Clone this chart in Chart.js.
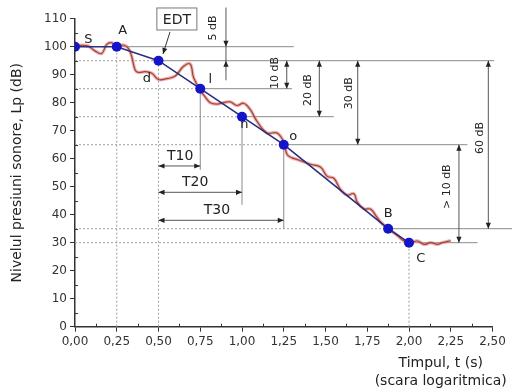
<!DOCTYPE html>
<html>
<head>
<meta charset="utf-8">
<script src="https://cdn.jsdelivr.net/npm/chart.js@4/dist/chart.umd.min.js"></script>
<style>
  html,body{margin:0;padding:0;background:#fff;}
</style>
</head>
<body>
<canvas id="chart" width="512" height="391"></canvas>
<script>
// PUNCTE MARCATE (linia albastra)
const markTimes  = [0, 0.25, 0.5, 0.75, 1.0, 1.25, 1.875, 2.0];
const markLevels = [100, 100, 95, 85, 75, 65, 35, 30];

// ETICHETE PUNCTE
const labelText   = ['S', 'A', 'd', 'l', 'n', 'o', 'B', 'C'];
const labelTimes  = [0.08, 0.286, 0.43, 0.81, 1.014, 1.307, 1.876, 2.07];
const labelLevels = [102.4, 105.7, 88.7, 88.1, 72, 67.9, 40.5, 24.4];

// CURBA MASURATA (rosie)
const curveTimes  = [0, 0.04, 0.08, 0.12, 0.16, 0.19, 0.22, 0.25, 0.29, 0.32,
                     0.34, 0.36, 0.38, 0.42, 0.46, 0.5, 0.55, 0.6, 0.65, 0.69,
                     0.71, 0.75, 0.78, 0.81, 0.85, 0.89, 0.93, 0.97, 1.01, 1.05,
                     1.09, 1.15, 1.21, 1.25, 1.27, 1.3, 1.33, 1.41, 1.47, 1.51,
                     1.55, 1.59, 1.63, 1.67, 1.69, 1.73, 1.77, 1.8, 1.83, 1.875,
                     1.93, 1.96, 2.0, 2.05, 2.09, 2.13, 2.17, 2.2, 2.25];
const curveLevels = [100, 100.5, 100.2, 98.5, 97.6, 100.8, 101.4, 100, 100.6, 99.4,
                     96.4, 91.7, 90.8, 91.1, 90.5, 88.3, 88.6, 89.5, 93, 93.8,
                     89, 84.5, 82, 80, 79.5, 80, 80.3, 79, 79.8, 77.5,
                     73.3, 69.2, 69.2, 66, 61.5, 60.3, 59.7, 58, 57, 53.7,
                     53, 49, 47, 47.5, 44.5, 42.1, 42, 39.8, 37.4, 35,
                     32.6, 31, 30, 30.6, 29.4, 30, 29.4, 30, 30.7];

// AXE
const xMin = 0, xMax = 2.5, xStep = 0.25;
const yMin = 0, yMax = 110, yStep = 10;
const yTitle = 'Nivelul presiuni sonore, Lp (dB)';
const xTitle = ['Timpul, t (s)', '(scara logaritmica)'];

// LINII AJUTATOARE: [nivel, de la t, pana la t]
const dottedLevels = [[95, 0, 0.5], [85, 0, 0.75], [75, 0, 1.0], [65, 0, 1.25], [35, 0, 1.875], [30, 0, 2.0]];
// [t, de la nivel, pana la nivel]
const dottedTimes  = [[0.25, 0, 100], [0.5, 0, 95], [2.0, 0, 30]];
const solidLevels  = [[100, 0.25, 1.31], [95, 0.5, 2.51], [85, 0.75, 1.3], [75, 1.0, 1.55],
                      [65, 1.25, 2.35], [35, 1.875, 2.62], [30, 2.0, 2.41]];
const solidTimes   = [[0.75, 85, 56], [1.0, 75, 43.5], [1.25, 65, 35]];

// SAGETI T10 / T20 / T30
const spanText   = ['T10', 'T20', 'T30'];
const spanEnd    = [0.75, 1.0, 1.25];
const spanLevel  = [57.4, 48, 38];
const spanTextAt = [0.63, 0.72, 0.85];

// COTE dB
const dimText   = ['5 dB', '10 dB', '20 dB', '30 dB', '60 dB', '> 10 dB'];
const dimTime   = [0.904, 1.268, 1.463, 1.693, 2.475, 2.299];
const dimTop    = [100, 95, 95, 95, 95, 65];
const dimBottom = [95, 85, 75, 65, 35, 30];
const dimTextT  = [0.826, 1.198, 1.395, 1.64, 2.425, 2.226];
const dimTextL  = [106.7, 90.6, 84.5, 83.4, 67.4, 50];

const FONT = '"DejaVu Sans", sans-serif';

function pts(xs, ys){ return xs.map((x,i)=>({x:x, y:ys[i]})); }

function arrowHead(ctx, x, y, dx, dy){
  // varf in (x,y), directie (dx,dy)
  const len = 6, w = 2.6;
  ctx.beginPath();
  ctx.moveTo(x, y);
  ctx.lineTo(x - dx*len - dy*w, y - dy*len + dx*w);
  ctx.lineTo(x - dx*len + dy*w, y - dy*len - dx*w);
  ctx.closePath();
  ctx.fill();
}

function line(ctx, x1, y1, x2, y2){
  ctx.beginPath(); ctx.moveTo(x1, y1); ctx.lineTo(x2, y2); ctx.stroke();
}

const guides = {
  id: 'guides',
  beforeDatasetsDraw(chart){
    const ctx = chart.ctx, X = chart.scales.x, Y = chart.scales.y;
    ctx.save();
    ctx.lineWidth = 1;
    ctx.strokeStyle = '#a0a0a0';
    ctx.setLineDash([2, 2]);
    dottedLevels.forEach(d=>line(ctx, X.getPixelForValue(d[1]), Y.getPixelForValue(d[0]), X.getPixelForValue(d[2]), Y.getPixelForValue(d[0])));
    dottedTimes.forEach(d=>line(ctx, X.getPixelForValue(d[0]), Y.getPixelForValue(d[1]), X.getPixelForValue(d[0]), Y.getPixelForValue(d[2])));
    ctx.setLineDash([]);
    ctx.strokeStyle = '#8a8a8a';
    solidLevels.forEach(d=>line(ctx, X.getPixelForValue(d[1]), Y.getPixelForValue(d[0]), X.getPixelForValue(d[2]), Y.getPixelForValue(d[0])));
    solidTimes.forEach(d=>line(ctx, X.getPixelForValue(d[0]), Y.getPixelForValue(d[1]), X.getPixelForValue(d[0]), Y.getPixelForValue(d[2])));

    // T10 / T20 / T30
    ctx.fillStyle = '#222';
    ctx.strokeStyle = '#555';
    spanText.forEach((t,i)=>{
      const x1 = X.getPixelForValue(0.5), x2 = X.getPixelForValue(spanEnd[i]), y = Y.getPixelForValue(spanLevel[i]);
      line(ctx, x1, y, x2, y);
      arrowHead(ctx, x1, y, -1, 0);
      arrowHead(ctx, x2, y, 1, 0);
    });

    // cote verticale
    dimText.forEach((t,i)=>{
      const x = X.getPixelForValue(dimTime[i]);
      const y1 = Y.getPixelForValue(dimTop[i]), y2 = Y.getPixelForValue(dimBottom[i]);
      if(i===0){
        line(ctx, x, Y.getPixelForValue(114), x, Y.getPixelForValue(88));
        arrowHead(ctx, x, y1, 0, 1);
        arrowHead(ctx, x, y2, 0, -1);
      } else {
        line(ctx, x, y1, x, y2);
        arrowHead(ctx, x, y1, 0, -1);
        arrowHead(ctx, x, y2, 0, 1);
      }
    });
    ctx.restore();
  },
  afterDatasetsDraw(chart){
    const ctx = chart.ctx, X = chart.scales.x, Y = chart.scales.y;
    ctx.save();
    ctx.fillStyle = '#222';
    ctx.textAlign = 'center';
    ctx.textBaseline = 'middle';

    ctx.font = '13px ' + FONT;
    labelText.forEach((t,i)=>ctx.fillText(t, X.getPixelForValue(labelTimes[i]), Y.getPixelForValue(labelLevels[i])));

    ctx.font = '14px ' + FONT;
    spanText.forEach((t,i)=>ctx.fillText(t, X.getPixelForValue(spanTextAt[i]), Y.getPixelForValue(spanLevel[i]) - 10));

    // EDT
    const bx = X.getPixelForValue(0.61), by = Y.getPixelForValue(109.9);
    ctx.fillStyle = '#fff';
    ctx.fillRect(bx - 20, by - 11, 40, 22);
    ctx.strokeStyle = '#777';
    ctx.lineWidth = 1;
    ctx.strokeRect(bx - 20, by - 11, 40, 22);
    ctx.fillStyle = '#222';
    ctx.fillText('EDT', bx, by + 1);
    const ax1 = X.getPixelForValue(0.569), ay1 = Y.getPixelForValue(105.3);
    const ax2 = X.getPixelForValue(0.527), ay2 = Y.getPixelForValue(97.4);
    ctx.strokeStyle = '#333';
    line(ctx, ax1, ay1, ax2, ay2);
    const L = Math.hypot(ax2-ax1, ay2-ay1);
    arrowHead(ctx, ax2, ay2, (ax2-ax1)/L, (ay2-ay1)/L);

    // texte cote
    ctx.font = '11px ' + FONT;
    dimText.forEach((t,i)=>{
      ctx.save();
      ctx.translate(X.getPixelForValue(dimTextT[i]), Y.getPixelForValue(dimTextL[i]));
      ctx.rotate(-Math.PI/2);
      ctx.fillText(t, 0, 0);
      ctx.restore();
    });
    ctx.restore();
  },
  afterDraw(chart){
    const ctx = chart.ctx, X = chart.scales.x, Y = chart.scales.y, a = chart.chartArea;
    ctx.save();
    // gradatii secundare
    ctx.strokeStyle = '#333';
    ctx.lineWidth = 1;
    for(let v = yStep/2; v < yMax; v += yStep){
      const y = Math.round(Y.getPixelForValue(v)) + 0.5;
      line(ctx, a.left, y, a.left + 3, y);
    }
    for(let v = xStep/2; v < xMax; v += xStep){
      const x = Math.round(X.getPixelForValue(v)) + 0.5;
      line(ctx, x, a.bottom, x, a.bottom - 3);
    }
    // titlu axa x
    ctx.fillStyle = '#222';
    ctx.font = '14px ' + FONT;
    ctx.textAlign = 'center';
    ctx.textBaseline = 'middle';
    const tx = X.getPixelForValue(2.19);
    ctx.fillText(xTitle[0], tx, a.bottom + 37);
    ctx.fillText(xTitle[1], tx, a.bottom + 55);
    ctx.restore();
  }
};

const chart = new Chart(document.getElementById('chart'), {
  type: 'scatter',
  data: {
    datasets: [
      {
        data: pts(markTimes, markLevels),
        showLine: true,
        borderColor: '#2a2f7c',
        borderWidth: 1.6,
        pointRadius: 5,
        pointBackgroundColor: '#1414c8',
        pointBorderWidth: 0,
        tension: 0
      },
      {
        data: pts(curveTimes, curveLevels),
        showLine: true,
        borderColor: '#9a4a2c',
        borderWidth: 1.2,
        pointRadius: 0,
        tension: 0.4
      },
      {
        data: pts(curveTimes, curveLevels),
        showLine: true,
        borderColor: 'rgba(232,120,135,0.6)',
        borderWidth: 3.4,
        pointRadius: 0,
        tension: 0.4
      }
    ]
  },
  options: {
    responsive: false,
    animation: false,
    devicePixelRatio: 1,
    layout: { padding: { left: 0, top: 18.7, right: 19.5, bottom: 0 } },
    plugins: { legend: { display: false }, tooltip: { enabled: false } },
    scales: {
      x: {
        min: xMin, max: xMax,
        afterFit: s => { s.height = 64.3; },
        border: { color: '#333', width: 1.5 },
        grid: { drawOnChartArea: false, tickLength: 5, color: '#333' },
        ticks: {
          stepSize: xStep, autoSkip: false, maxRotation: 0, padding: 3,
          color: '#333', font: { family: FONT, size: 12 },
          callback: v => v.toFixed(2).replace('.', ',')
        }
      },
      y: {
        min: yMin, max: yMax,
        afterFit: s => { s.width = 75; },
        border: { color: '#333', width: 1.5 },
        grid: { drawOnChartArea: false, tickLength: 5, color: '#333' },
        ticks: { stepSize: yStep, padding: 3, color: '#333', font: { family: FONT, size: 12 } },
        title: {
          display: true, text: yTitle, color: '#222',
          font: { family: FONT, size: 14 }, padding: { top: 9, bottom: 0 }
        }
      }
    }
  },
  plugins: [guides]
});
</script>
</body>
</html>
